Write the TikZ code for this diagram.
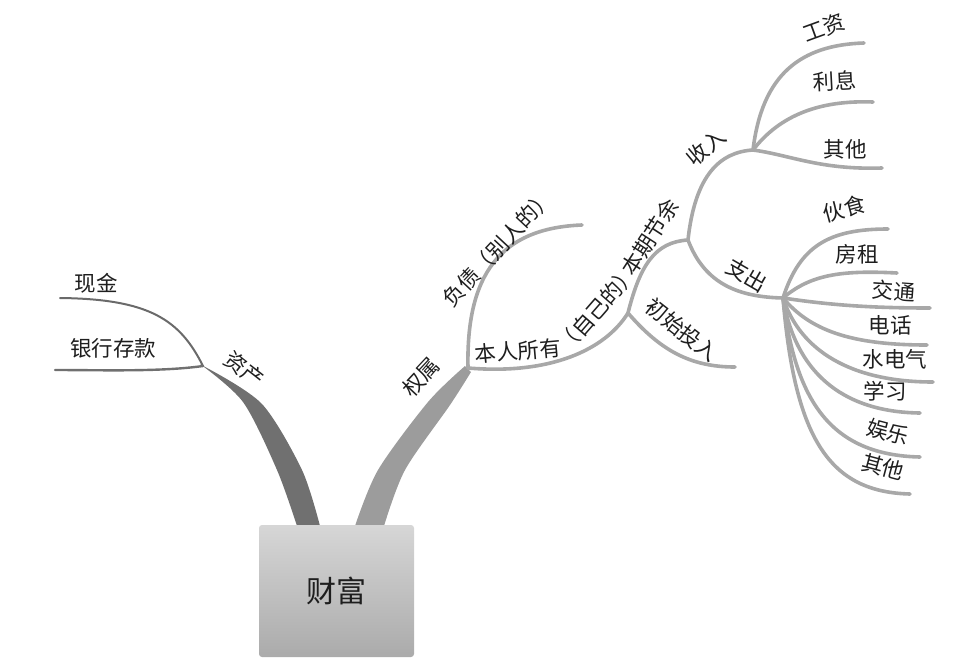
\documentclass[tikz,border=0pt]{standalone}
\usepackage{fontspec}
\setmainfont{Noto Sans CJK SC}
\definecolor{brA}{HTML}{707070}
\definecolor{brB}{HTML}{9C9C9C}
\definecolor{brC}{HTML}{A8A8A8}
\definecolor{brD}{HTML}{6A6A6A}
\definecolor{txt}{HTML}{1E1E1E}
\begin{document}
\begin{tikzpicture}[x=1pt,y=-1pt,
  lbl/.style={inner sep=0pt,text=txt,font=\fontsize{21.5}{21.5}\selectfont},
  twig/.style={draw=brC,line width=3.6pt,line cap=round},
  thin/.style={draw=brD,line width=2pt,line cap=round}]
\useasboundingbox (0,0) rectangle (962,665);

% junctions and ends
\coordinate (A) at (203,366);
\coordinate (Q) at (468,368);
\coordinate (B) at (628,313);
\coordinate (C) at (688,240);
\coordinate (SR) at (753,150);
\coordinate (ZC) at (783,298);

% main tapered branches
\fill[brA] plot[smooth] coordinates {(297,526) (277,470) (243,402) (200,364)}
  -- plot[smooth] coordinates {(207,368) (262,404) (302,470) (320,526)} -- cycle;
\fill[brB] plot[smooth] coordinates {(355,526) (378,470) (428,402) (465,366)}
  -- plot[smooth] coordinates {(471,372) (450,405) (405,470) (384,526)} -- cycle;

% box
\node[draw=none,rounded corners=3pt,top color=black!16,bottom color=black!33,
  minimum width=155pt,minimum height=132pt,inner sep=0pt,
  font=\fontsize{30}{30}\selectfont,text=txt] (root) at (336.5,591) {财富};

% asset children
\coordinate (xj) at (60,298);
\coordinate (yh) at (55,370);
\draw[thin] (A) .. controls (180,320) and (150,299) .. (xj);
\draw[thin,line width=2.4pt,draw=brA] (A) .. controls (160,372) and (100,370) .. (yh);

% ownership children
\coordinate (fz) at (582,225);
\coordinate (csE) at (735,367);
\draw[twig] (Q) .. controls (466,275) and (500,228) .. (fz);
\draw[twig] (Q) .. controls (550,375) and (605,350) .. (B);
\draw[twig] (B) .. controls (640,265) and (655,242) .. (C);
\draw[twig] (B) .. controls (660,350) and (690,367) .. (csE);
\draw[twig] (C) .. controls (695,175) and (720,152) .. (SR);
\draw[twig] (C) .. controls (705,285) and (740,297) .. (ZC);

% income children
\coordinate (gz) at (864,43);
\coordinate (lx) at (873,102);
\coordinate (qt1) at (882,168);
\draw[twig] (SR) .. controls (762,75) and (800,45) .. (gz);
\draw[twig] (SR) .. controls (780,115) and (820,100) .. (lx);
\draw[twig] (SR) .. controls (790,155) and (820,170) .. (qt1);

% expense children
\coordinate (hs) at (888,229);
\coordinate (fzu) at (897,273);
\coordinate (jt) at (930,308);
\coordinate (dh) at (927,345);
\coordinate (sd) at (933,382);
\coordinate (xx) at (920,413);
\coordinate (yl) at (920,457);
\coordinate (qt2) at (910,494);
\draw[twig] (ZC) .. controls (800,245) and (830,229) .. (hs);
\draw[twig] (ZC) .. controls (810,275) and (840,270) .. (fzu);
\draw[twig] (ZC) .. controls (830,305) and (870,308) .. (jt);
\draw[twig] (ZC) .. controls (810,330) and (850,345) .. (dh);
\draw[twig] (ZC) .. controls (800,350) and (850,382) .. (sd);
\draw[twig] (ZC) .. controls (795,370) and (840,412) .. (xx);
\draw[twig] (ZC) .. controls (795,400) and (830,455) .. (yl);
\draw[twig] (ZC) .. controls (795,440) and (830,492) .. (qt2);

% labels
\node[lbl] (l1) at (96,283) {现金};
\node[lbl] (l2) at (113,348) {银行存款};
\node[lbl,rotate=-38] (l3) at (244,369) {资产};
\node[lbl,rotate=47] (l4) at (421,377) {权属};
\node[lbl,rotate=47] (l5) at (498,248) {负债（别人的）};
\node[lbl,rotate=5] (l6) at (518,351) {本人所有};
\node[lbl,rotate=49] (l7) at (597,309) {（自己的）};
\node[lbl,rotate=57] (l8) at (650,237) {本期节余};
\node[lbl,rotate=-38] (l9) at (682,330) {初始投入};
\node[lbl,rotate=40] (l10) at (706,147) {收入};
\node[lbl,rotate=-30] (l11) at (747,275) {支出};
\node[lbl,rotate=20] (l12) at (824,28) {工资};
\node[lbl,rotate=3] (l13) at (835,81) {利息};
\node[lbl] (l14) at (845,149) {其他};
\node[lbl,rotate=15] (l15) at (844,209) {伙食};
\node[lbl] (l16) at (857,254) {房租};
\node[lbl,rotate=-4] (l17) at (894,291) {交通};
\node[lbl] (l18) at (890,325) {电话};
\node[lbl] (l19) at (895,359) {水电气};
\node[lbl] (l20) at (885,391) {学习};
\node[lbl,rotate=-15] (l21) at (888,432) {娱乐};
\node[lbl,rotate=-15] (l22) at (883,467) {其他};
\end{tikzpicture}
\end{document}
